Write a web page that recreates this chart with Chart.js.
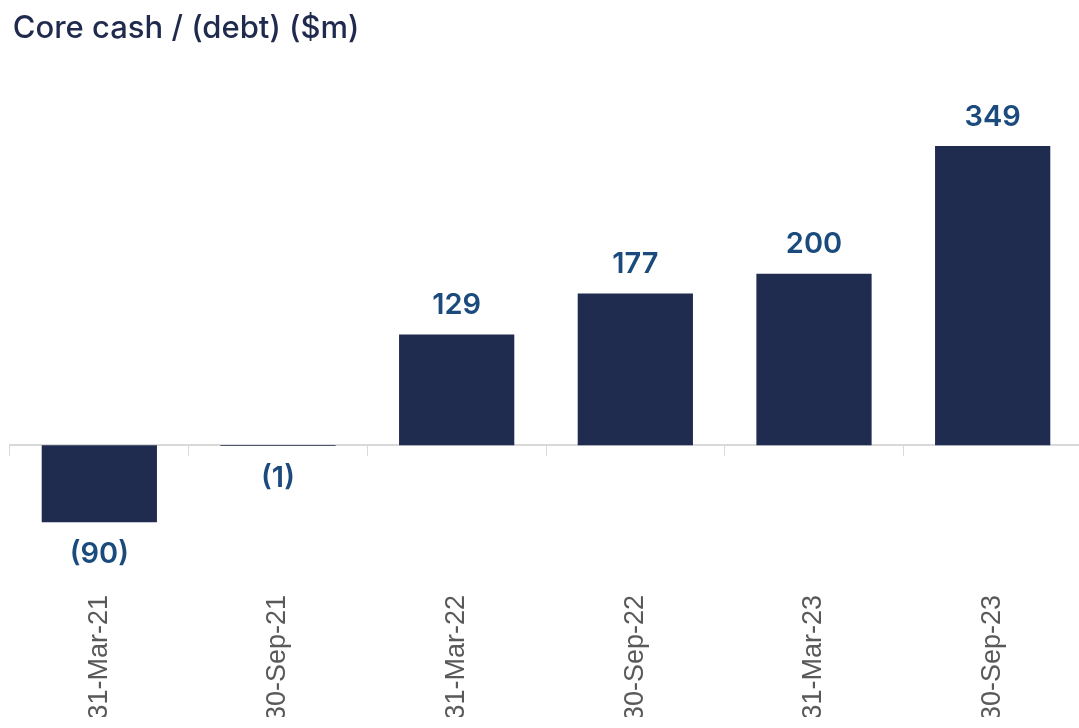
<!DOCTYPE html>
<html lang="en">
<head>
    <meta charset="UTF-8">
    <title>Core cash / (debt)</title>
    <script src="https://cdn.jsdelivr.net/npm/chart.js"></script>
    <style>
        html, body { margin: 0; padding: 0; overflow: hidden; background: #fff; }
        #wrap { width: 1082px; height: 717px; position: relative; }
    </style>
</head>
<body>
    <div id="wrap">
        <canvas id="cashChart"></canvas>
    </div>

    <script>
        // Data
        const periods = ['31-Mar-21', '30-Sep-21', '31-Mar-22', '30-Sep-22', '31-Mar-23', '30-Sep-23'];
        const coreCash = [-90, -1, 129, 177, 200, 349];

        const navy = '#1f2b4f';
        const labelBlue = '#1b4a7c';
        const axisGrey = '#d9d9d9';

        // value labels above / below the bars
        const valueLabels = {
            id: 'valueLabels',
            afterDatasetsDraw(chart) {
                const ctx = chart.ctx;
                const meta = chart.getDatasetMeta(0);
                ctx.save();
                ctx.font = '600 29px Inter, "Noto Sans", sans-serif';
                ctx.fillStyle = labelBlue;
                ctx.textAlign = 'center';
                ctx.textBaseline = 'middle';
                meta.data.forEach((bar, i) => {
                    const v = coreCash[i];
                    const txt = v < 0 ? '(' + Math.abs(v) + ')' : String(v);
                    const y = v < 0 ? bar.y + 32 : bar.y - 29;
                    ctx.fillText(txt, bar.x, y);
                });
                ctx.restore();
            }
        };

        const ctx = document.getElementById('cashChart').getContext('2d');
        new Chart(ctx, {
            type: 'bar',
            data: {
                labels: periods,
                datasets: [{
                    data: coreCash,
                    backgroundColor: navy,
                    borderWidth: 0,
                    barPercentage: 0.645,
                    categoryPercentage: 1
                }]
            },
            options: {
                responsive: true,
                maintainAspectRatio: false,
                animation: false,
                layout: { padding: { left: 10, right: 0, top: 0, bottom: 0 } },
                plugins: {
                    legend: { display: false },
                    tooltip: { enabled: false },
                    title: {
                        display: true,
                        text: '\u200ACore cash / (debt) ($m)',
                        align: 'start',
                        color: '#1f2a4d',
                        font: { family: 'Inter, "Noto Sans", sans-serif', size: 31, weight: '500' },
                        padding: { top: 10, bottom: 55 }
                    }
                },
                scales: {
                    x: {
                        position: { y: 0 },
                        offset: true,
                        grid: {
                            display: true,
                            offset: true,
                            drawOnChartArea: false,
                            drawTicks: true,
                            tickLength: 10,
                            color: axisGrey
                        },
                        border: { display: true, color: axisGrey, width: 2 },
                        ticks: { display: false }
                    },
                    x2: {
                        type: 'category',
                        position: 'bottom',
                        offset: true,
                        grid: { display: false },
                        border: { display: false },
                        ticks: {
                            minRotation: 90,
                            maxRotation: 90,
                            padding: -4,
                            color: '#595959',
                            font: { family: '"Liberation Sans", Arial, sans-serif', size: 27 }
                        }
                    },
                    y: {
                        display: false,
                        min: -170,
                        max: 400
                    }
                }
            },
            plugins: [valueLabels]
        });
    </script>
</body>
</html>
